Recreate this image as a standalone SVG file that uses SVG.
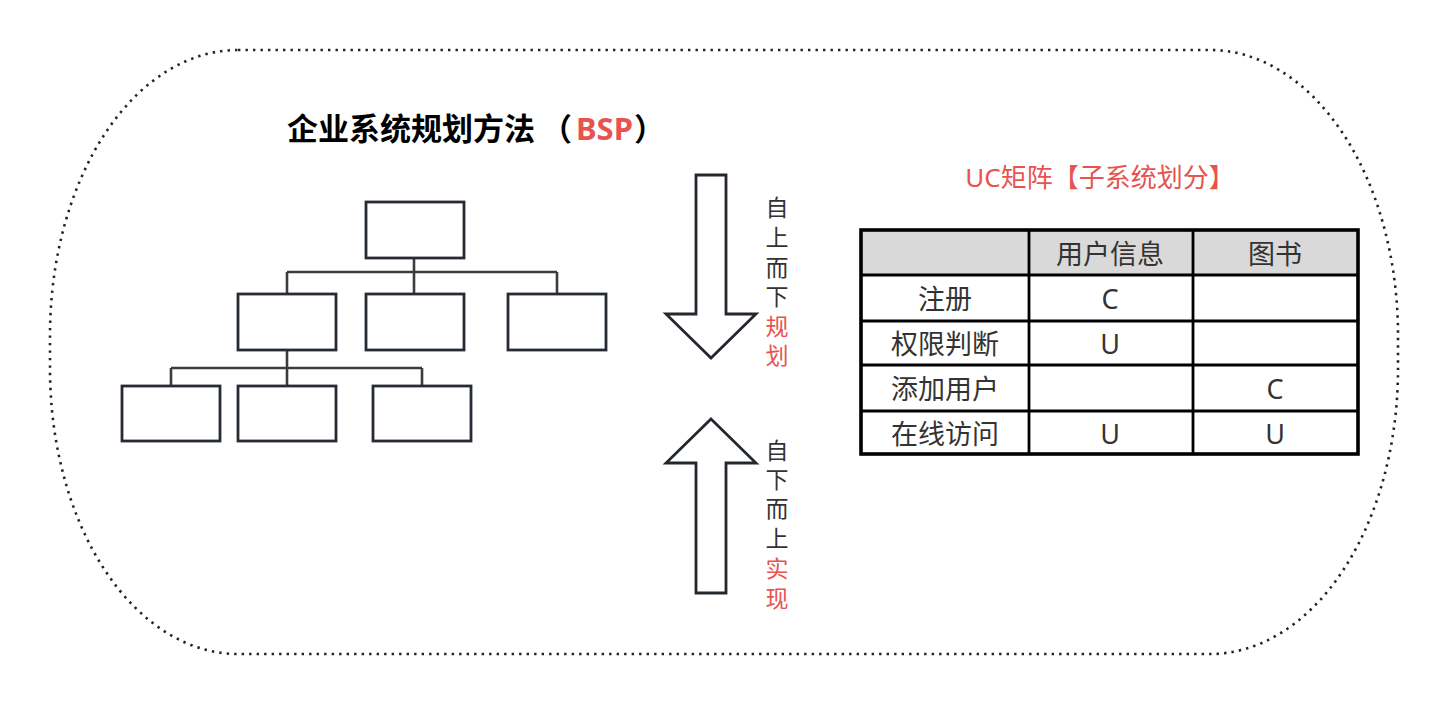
<svg xmlns="http://www.w3.org/2000/svg" width="1452" height="704" viewBox="0 0 1452 704">
<style>
.bx{fill:#fff;stroke:#262c33;stroke-width:2.8}
.ln{fill:none;stroke:#3c3c3c;stroke-width:2.6}
.ar{fill:#fff;stroke:#22282e;stroke-width:2.8;stroke-linejoin:miter}
.t{font-family:"Noto Sans","Noto Sans CJK SC",sans-serif;fill:#333}
.red{fill:#e85350}
.vt{font-size:23px;text-anchor:middle;dominant-baseline:central}
.tc{font-size:27px;text-anchor:middle;dominant-baseline:central}
.grid{stroke:#000;stroke-width:2.8;fill:none}
</style>
<rect width="1452" height="704" fill="#fff"/>
<rect id="frame" x="50" y="50" width="1348" height="604" rx="188" ry="285" fill="none" stroke="#1f242a" stroke-width="2.6" stroke-dasharray="2.4 5.1"/>
<text id="title" class="t" y="140" font-size="31" font-weight="bold" style="fill:#000"><tspan x="287">企业系统规划方法</tspan><tspan x="541">（</tspan><tspan x="576" style="fill:#e85350">BSP</tspan><tspan x="634">）</tspan></text>
<g id="connectors">
<path class="ln" d="M414 258V294M287 272H557M287 272V294M557 272V294M287 350V386M171 368H422M171 368V386M422 368V386"/>
</g>
<g id="n0"><rect class="bx" x="366" y="202" width="98" height="56"/></g>
<g id="n1"><rect class="bx" x="238" y="294" width="98" height="56"/></g>
<g id="n2"><rect class="bx" x="366" y="294" width="98" height="56"/></g>
<g id="n3"><rect class="bx" x="508" y="294" width="98" height="56"/></g>
<g id="n4"><rect class="bx" x="122" y="386" width="98" height="55"/></g>
<g id="n5"><rect class="bx" x="238" y="386" width="98" height="55"/></g>
<g id="n6"><rect class="bx" x="373" y="386" width="98" height="55"/></g>
<g id="down">
<polygon class="ar" points="696,175 726,175 726,314 756,314 711,358 666,314 696,314"/>
<text class="t vt" x="777" y="207">自</text>
<text class="t vt" x="777" y="237">上</text>
<text class="t vt" x="777" y="267">而</text>
<text class="t vt" x="777" y="296">下</text>
<text class="t vt red" x="777" y="326">规</text>
<text class="t vt red" x="777" y="355">划</text>
</g>
<g id="up">
<polygon class="ar" points="711,419 756,463 726,463 726,593 696,593 696,463 666,463"/>
<text class="t vt" x="777" y="450">自</text>
<text class="t vt" x="777" y="479">下</text>
<text class="t vt" x="777" y="508">而</text>
<text class="t vt" x="777" y="538">上</text>
<text class="t vt red" x="777" y="568">实</text>
<text class="t vt red" x="777" y="598">现</text>
</g>
<g id="uc">
<text class="t red" x="1100" y="177" font-size="26" text-anchor="middle" dominant-baseline="central">UC矩阵【子系统划分】</text>
<rect x="861" y="230" width="497" height="45" fill="#d9d9d9"/>
<path class="grid" d="M861 275H1358M861 321H1358M861 365H1358M861 411H1358M1029 230V455M1193 230V455"/>
<rect x="861" y="230" width="497" height="224" fill="none" stroke="#000" stroke-width="3.6"/>
<text class="t tc" x="1110" y="253">用户信息</text>
<text class="t tc" x="1275" y="253">图书</text>
<text class="t tc" x="945" y="298">注册</text>
<text class="t tc" x="945" y="343">权限判断</text>
<text class="t tc" x="945" y="388">添加用户</text>
<text class="t tc" x="945" y="433">在线访问</text>
<text class="t tc" x="1110" y="298">C</text>
<text class="t tc" x="1110" y="343">U</text>
<text class="t tc" x="1275" y="388">C</text>
<text class="t tc" x="1110" y="433">U</text>
<text class="t tc" x="1275" y="433">U</text>
</g>
</svg>
